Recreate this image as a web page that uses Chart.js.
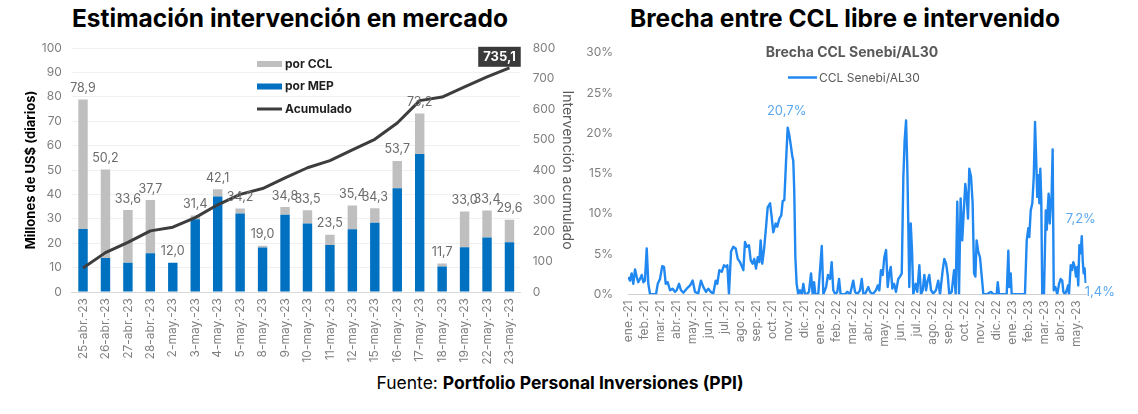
<!DOCTYPE html>
<html><head><meta charset="utf-8">
<script src="https://cdn.jsdelivr.net/npm/chart.js@4.4.1/dist/chart.umd.min.js"></script>
<style>
html,body{margin:0;padding:0;background:#fff;width:1138px;height:414px;overflow:hidden;font-family:Inter,"Noto Sans",sans-serif;}
.t{position:absolute;top:3px;font-size:24.5px;font-weight:700;line-height:30px;text-align:center;color:#000;}
#foot{position:absolute;left:0;width:1120px;top:372px;text-align:center;font-size:17.5px;line-height:22px;color:#000;}
canvas{position:absolute;top:0;}
</style></head>
<body>
<div class="t" style="left:0;width:580px">Estimación intervención en mercado</div>
<div class="t" style="left:575px;width:540px">Brecha entre CCL libre e intervenido</div>
<canvas id="cL" width="585" height="372" style="left:0"></canvas>
<canvas id="cR" width="563" height="372" style="left:575px"></canvas>
<div id="foot">Fuente: <b>Portfolio Personal Inversiones (PPI)</b></div>
<script>
// ---------- Left chart data ----------
const categories = ['25-abr.-23','26-abr.-23','27-abr.-23','28-abr.-23','2-may.-23','3-may.-23','4-may.-23','5-may.-23','8-may.-23','9-may.-23','10-may.-23','11-may.-23','12-may.-23','15-may.-23','16-may.-23','17-may.-23','18-may.-23','19-may.-23','22-may.-23','23-may.-23'];
const totales = [78.9,50.2,33.6,37.7,12.0,31.4,42.1,34.2,19.0,34.8,33.5,23.5,35.4,34.3,53.7,73.2,11.7,33.0,33.4,29.6];
const porMEP = [25.8,13.9,12.0,15.9,12.0,29.8,39.1,32.2,18.2,31.7,28.1,19.3,25.7,28.4,42.5,56.6,10.4,18.3,22.3,20.4];
const porCCL = [53.1,36.3,21.6,21.8,0.0,1.6,3.0,2.0,0.8,3.1,5.4,4.2,9.7,5.9,11.2,16.6,1.3,14.7,11.1,9.2];
const acumulado = [78.9,129.1,162.7,200.4,212.4,243.8,285.9,320.1,339.1,373.9,407.4,430.9,466.3,500.6,554.3,627.5,639.2,672.2,705.6,735.1];
const acumuladoFinal = '735,1';

// ---------- Right chart data ----------
const mesesLabels = ['ene.-21','feb.-21','mar.-21','abr.-21','may.-21','jun.-21','jul.-21','ago.-21','sep.-21','oct.-21','nov.-21','dic.-21','ene.-22','feb.-22','mar.-22','abr.-22','may.-22','jun.-22','jul.-22','ago.-22','sep.-22','oct.-22','nov.-22','dic.-22','ene.-23','feb.-23','mar.-23','abr.-23','may.-23'];
const brechaMes = [0.02,0.13,0.23,0.33,0.44,0.54,0.64,0.75,0.86,0.96,1.06,1.17,1.27,1.38,1.58,1.75,1.86,2.00,2.14,2.25,2.36,2.48,2.63,2.79,2.94,3.04,3.19,3.31,3.46,3.67,3.88,4.04,4.19,4.39,4.56,4.71,4.88,5.02,5.17,5.33,5.48,5.58,5.71,5.86,6.00,6.13,6.21,6.31,6.44,6.58,6.73,6.86,
7.00,7.21,7.31,7.42,7.56,7.67,7.79,7.89,8.00,8.11,8.21,8.29,8.39,8.50,8.63,8.73,8.88,8.98,9.08,9.23,9.33,9.46,9.58,9.67,9.77,9.88,9.98,10.08,10.19,10.27,10.33,10.39,10.46,10.54,10.64,10.75,10.86,10.96,11.06,11.17,11.31,11.44,11.54,11.63,11.71,11.89,12.11,12.21,12.38,12.50,12.63,12.73,12.83,12.96,13.08,13.19,13.29,13.56,13.71,13.88,14.08,14.19,14.33,14.50,14.61,14.71,
14.81,15.02,15.13,15.29,15.50,15.61,15.71,15.81,15.92,16.02,16.13,16.23,16.33,16.42,16.52,16.63,16.75,16.89,17.00,17.11,17.21,17.29,17.38,17.46,17.52,17.58,17.67,17.75,17.83,17.98,18.08,18.21,18.31,18.42,18.52,18.63,18.73,18.83,18.94,19.08,19.25,19.39,19.50,19.67,19.77,19.88,19.98,20.08,20.23,20.38,20.48,20.58,20.69,20.79,20.89,21.00,21.08,21.17,21.25,21.33,21.44,21.54,21.63,21.71,21.79,21.89,22.00,22.11,22.21,
22.42,22.69,22.83,23.04,23.11,23.19,23.67,23.77,23.83,23.92,23.98,24.81,24.92,25.02,25.08,25.17,25.27,25.36,25.44,25.50,25.58,25.64,25.71,25.77,25.83,25.89,26.00,26.11,26.17,26.23,26.29,26.36,26.42,26.48,26.54,26.61,26.71,26.83,26.94,27.04,27.14,27.21,27.31,27.42,27.50,27.56,27.67,27.75,27.83,27.92,28.00,28.08,28.14,28.21,28.29,28.36,28.42,28.48,28.54,28.61];
const brechaValor = [2.15,1.7,2.6,1.3,3.1,2.2,1.5,1.9,2.4,1.5,1.7,5.7,1.3,0,0,0,1.3,1.9,3.5,3.4,1.3,1.5,0.5,0.7,0.3,0.5,1.3,0.5,0.2,0.7,1.1,1.7,0.3,0.1,1.7,0.9,0.3,0.7,0.3,0.1,1.7,1.3,3.0,2.8,3.6,3.4,3.6,0,5.3,5.9,5.7,4.4,
4.0,3.0,6.5,5.9,6.1,4.2,3.8,4.4,3.2,4.6,4.0,6.7,3.8,5.5,8.4,10.8,11.3,9.6,7.7,8.8,8.4,9.4,9.8,11.6,11.7,16.6,20.7,19.8,18.3,17.1,16.6,12.9,4.6,1.3,0,0.5,0,1.3,0,0,0.3,2.6,0,1.5,0,0,6.0,0,0.9,2.4,1.9,4.0,0.5,0,0.3,1.9,0,0,0.3,0,1.7,0.3,0,0.5,1.9,0,
0,0.9,0.3,0,0.5,1.1,0.5,3.0,2.4,4.6,5.5,0.9,2.6,3.4,0.7,1.3,0.3,1.9,2.2,2.6,14.6,19.1,21.6,15.4,8.4,0.9,8.8,5.5,0,1.3,0.3,3.6,0,0.5,2.4,0.5,1.7,2.4,0.5,0.1,0.5,1.7,0,3.0,4.4,3.8,2.4,0,0.3,3.0,0,11.5,0,11.9,6.7,10.8,13.7,12.1,9.4,15.6,14.6,11.3,2.6,2.2,6.7,5.3,4.6,2.2,0,
0,0.3,0,0,1.5,0,0,5.4,0.9,2.6,0,0,6.7,8.2,7.1,10.4,11.3,14.6,21.4,17.5,12.1,14.8,11.3,15.6,11.7,0,0,10.4,8.0,10.4,12.5,8.8,10.8,12.5,18.0,0.5,0.9,0,1.3,1.9,1.7,0.3,0,0.5,1.1,0,3.6,3.0,4.0,3.4,2.2,3.4,1.1,6.1,5.1,7.2,4.2,2.6,3.2,1.4];
const brechaEtiquetas = [{v:20.7, t:'20,7%'},{v:7.2, t:'7,2%'},{v:1.4, t:'1,4%', last:true}];

const FONT = 'Inter, "Noto Sans", sans-serif';
const fmt = v => v.toFixed(1).replace('.', ',');
Chart.defaults.font.family = FONT;

// ---------- Left chart ----------
const leftPlugin = {
  id: 'leftDeco',
  afterDatasetsDraw(chart) {
    const ctx = chart.ctx;
    const metaTop = chart.getDatasetMeta(1);
    ctx.save();
    ctx.font = '12.5px ' + FONT;
    ctx.fillStyle = '#6b6b6b';
    ctx.textAlign = 'center';
    ctx.textBaseline = 'bottom';
    metaTop.data.forEach((el, i) => {
      ctx.fillText(fmt(totales[i]), el.x, el.y - 5);
    });
    // final value box
    const lm = chart.getDatasetMeta(2);
    const p = lm.data[lm.data.length - 1];
    ctx.font = 'bold 13px ' + FONT;
    const w = ctx.measureText(acumuladoFinal).width + 10;
    const bx = p.x - 10 - w / 2, by = p.y - 21;
    ctx.fillStyle = '#3a3a3a';
    ctx.fillRect(bx, by, w, 20);
    ctx.fillStyle = '#fff';
    ctx.textBaseline = 'middle';
    ctx.fillText(acumuladoFinal, bx + w / 2, by + 10.5);
    // legend
    const items = [
      {t: chart.data.datasets[1].label, c: chart.data.datasets[1].backgroundColor, k: 'box'},
      {t: chart.data.datasets[0].label, c: chart.data.datasets[0].backgroundColor, k: 'box'},
      {t: chart.data.datasets[2].label, c: chart.data.datasets[2].borderColor, k: 'line'}
    ];
    ctx.textAlign = 'left';
    ctx.font = 'bold 12px ' + FONT;
    items.forEach((it, j) => {
      const y = 64 + j * 22.5;
      ctx.fillStyle = it.c;
      if (it.k === 'box') ctx.fillRect(257, y - 3, 25, 6);
      else ctx.fillRect(257, y - 1.5, 25, 3);
      ctx.fillStyle = '#1f1f1f';
      ctx.fillText(it.t, 285, y);
    });
    ctx.restore();
  }
};

new Chart(document.getElementById('cL'), {
  type: 'bar',
  data: {
    labels: categories,
    datasets: [
      {label: 'por MEP', data: porMEP, backgroundColor: '#0070c0', stack: 's', yAxisID: 'y', order: 1, barPercentage: 0.42, categoryPercentage: 1},
      {label: 'por CCL', data: porCCL, backgroundColor: '#bfbfbf', stack: 's', yAxisID: 'y', order: 1, barPercentage: 0.42, categoryPercentage: 1},
      {type: 'line', label: 'Acumulado', data: acumulado, yAxisID: 'y1', borderColor: '#3d3d3d', borderWidth: 3, pointRadius: 0, tension: 0, order: 0, borderJoinStyle: 'round'}
    ]
  },
  options: {
    responsive: false, animation: false,
    layout: {padding: {left: 19, right: 5.6, top: 48, bottom: 0}},
    plugins: {legend: {display: false}, tooltip: {enabled: false}},
    scales: {
      x: {stacked: true, grid: {display: false, drawTicks: false}, border: {display: true, color: '#d9d9d9', width: 1},
          ticks: {minRotation: 90, maxRotation: 90, autoSkip: false, padding: 6, color: '#7f7f7f', font: {size: 12}},
          afterFit: s => { s.height = 80; }},
      y: {stacked: true, min: 0, max: 100, ticks: {stepSize: 10, padding: 10, color: '#7f7f7f', font: {size: 12}},
          grid: {color: '#f0f0f0', drawTicks: false}, border: {display: false},
          title: {display: true, text: 'Millones de US$ (diarios)', color: '#000', font: {size: 13, weight: 'bold'}},
          afterFit: s => { s.width = 52.8; }},
      y1: {position: 'right', min: 0, max: 800, ticks: {stepSize: 100, padding: 12, color: '#7f7f7f', font: {size: 12}},
          grid: {display: false, drawTicks: false}, border: {display: false},
          title: {display: true, text: 'Intervención acumulado', color: '#595959', font: {size: 14}},
          afterFit: s => { s.width = 58.7; }}
    }
  },
  plugins: [leftPlugin]
});

// ---------- Right chart ----------
const rightPlugin = {
  id: 'rightDeco',
  afterDatasetsDraw(chart) {
    const ctx = chart.ctx, xs = chart.scales.x, ys = chart.scales.y;
    ctx.save();
    ctx.font = '13px ' + FONT;
    ctx.fillStyle = '#5aa8ee';
    ctx.textBaseline = 'middle';
    brechaEtiquetas.forEach(e => {
      const i = e.last ? brechaValor.length - 1 : brechaValor.indexOf(e.v);
      const px = xs.getPixelForValue(brechaMes[i]), py = ys.getPixelForValue(brechaValor[i]);
      if (e.last) { ctx.textAlign = 'left'; ctx.fillText(e.t, px - 1, py + 9); }
      else { ctx.textAlign = 'center'; ctx.fillText(e.t, px - 1, py - 17); }
    });
    // inner title and legend
    ctx.textAlign = 'center';
    ctx.fillStyle = '#595959';
    ctx.font = 'bold 14px ' + FONT;
    ctx.fillText('Brecha CCL Senebi/AL30', 277, 53);
    ctx.strokeStyle = chart.data.datasets[0].borderColor;
    ctx.lineWidth = 2.5;
    ctx.beginPath(); ctx.moveTo(213, 77.5); ctx.lineTo(242, 77.5); ctx.stroke();
    ctx.textAlign = 'left';
    ctx.font = '12px ' + FONT;
    ctx.fillStyle = '#595959';
    ctx.fillText(chart.data.datasets[0].label, 244, 78);
    ctx.restore();
  }
};

new Chart(document.getElementById('cR'), {
  type: 'line',
  data: {
    datasets: [{
      label: 'CCL Senebi/AL30',
      data: brechaMes.map((m, i) => ({x: m, y: brechaValor[i]})),
      borderColor: '#2088f0', borderWidth: 2.4, pointRadius: 0, tension: 0, borderJoinStyle: 'round'
    }]
  },
  options: {
    responsive: false, animation: false,
    layout: {padding: {left: 0, right: 51.6, top: 52.7, bottom: 0}},
    plugins: {legend: {display: false}, tooltip: {enabled: false}},
    scales: {
      x: {type: 'linear', min: 0, max: 28.65,
          afterBuildTicks: s => { s.ticks = mesesLabels.map((_, i) => ({value: i})); },
          ticks: {callback: v => mesesLabels[v] ?? '', minRotation: 90, maxRotation: 90, autoSkip: false, padding: 6, color: '#7f7f7f', font: {size: 12}},
          grid: {display: false, drawTicks: false}, border: {display: true, color: '#d0d0d0'},
          afterFit: s => { s.height = 77.7; }},
      y: {min: 0, max: 30, ticks: {stepSize: 5, padding: 15, callback: v => v + '%', color: '#7f7f7f', font: {size: 12}},
          grid: {display: false, drawTicks: false}, border: {display: false},
          afterFit: s => { s.width = 53; }}
    }
  },
  plugins: [rightPlugin]
});
</script>
</body></html>
